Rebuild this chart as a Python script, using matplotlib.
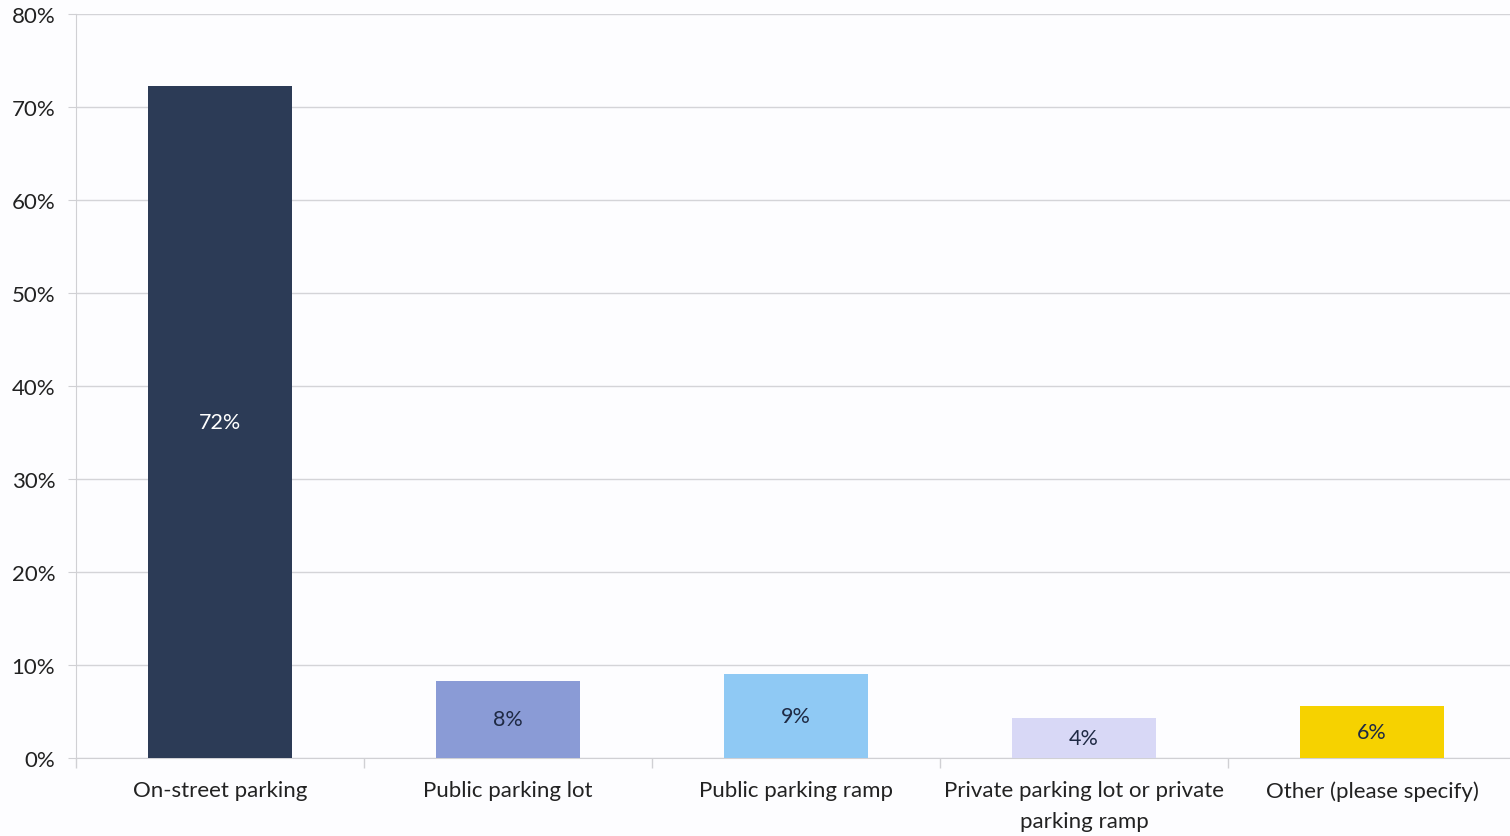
import matplotlib
matplotlib.use("Agg")
import matplotlib.pyplot as plt
from matplotlib.ticker import MultipleLocator, FuncFormatter, FixedLocator

categories = [
    "On-street parking",
    "Public parking lot",
    "Public parking ramp",
    "Private parking lot or private\nparking ramp",
    "Other (please specify)",
]
shares = [72.3, 8.3, 9.0, 4.3, 5.6]
bar_colors = ["#2c3b56", "#8a9bd6", "#8fc9f4", "#d8d8f6", "#f6d200"]
label_colors = ["#ffffff", "#1f2a44", "#1f2a44", "#1f2a44", "#1f2a44"]

plt.rcParams["font.family"] = ["Lato", "DejaVu Sans"]

W, H = 1510, 837
fig = plt.figure(figsize=(W / 100, H / 100), dpi=100)
fig.patch.set_facecolor("#fdfdff")
ax = fig.add_axes([76 / W, 78 / H, 1440 / W, (759 - 15) / H])
ax.set_facecolor("#fdfdff")

x = list(range(len(categories)))
bars = ax.bar(x, shares, width=0.503, color=bar_colors, zorder=3)

for rect, val, tc in zip(bars, shares, label_colors):
    ax.text(rect.get_x() + rect.get_width() / 2, val / 2, f"{round(val)}%",
            ha="center", va="center", fontsize=15.5, color=tc, zorder=4)

ax.set_xlim(-0.5, len(categories) - 0.5)
ax.set_ylim(0, 80)
ax.yaxis.set_major_locator(MultipleLocator(10))
ax.yaxis.set_major_formatter(FuncFormatter(lambda v, _: f"{v:.0f}%"))
ax.grid(axis="y", color="#d4d4d8", linewidth=1.0, zorder=0)

ax.set_xticks(x)
ax.set_xticklabels(categories, fontsize=16, color="#222222", linespacing=1.7)
ax.tick_params(axis="x", length=0, pad=16)
ax.xaxis.set_minor_locator(FixedLocator([i + 0.5 for i in range(-1, len(categories))]))
ax.tick_params(axis="x", which="minor", length=7, color="#d0d0d4", width=1)
ax.tick_params(axis="y", length=6, color="#d0d0d4", labelsize=16,
               labelcolor="#222222", pad=9)

for side in ["top", "right"]:
    ax.spines[side].set_visible(False)
ax.spines["left"].set_color("#d0d0d4")
ax.spines["bottom"].set_color("#d0d0d4")

fig.savefig("out.png", dpi=100, facecolor=fig.get_facecolor())
